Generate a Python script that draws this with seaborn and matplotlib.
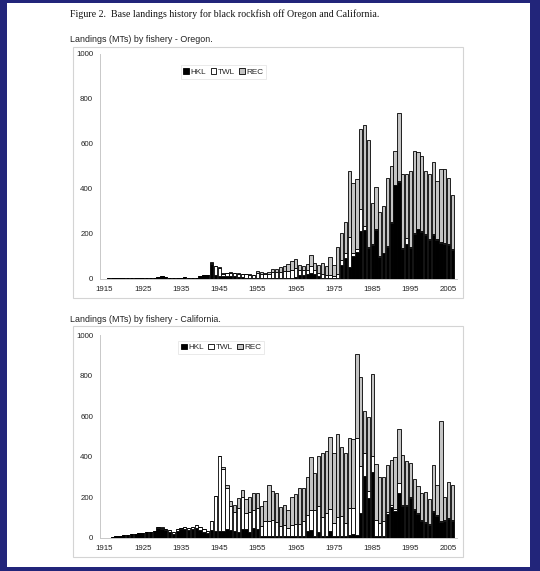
import matplotlib
matplotlib.use("Agg")
import matplotlib.pyplot as plt
from matplotlib.patches import Rectangle, Patch
import seaborn as sns
import pandas as pd

years = list(range(1916, 2007))

or_hkl = [1, 2, 2, 2, 2, 2, 3, 3, 3, 3, 3, 3, 4,
          8, 10, 7, 3, 2, 2, 3, 6, 5, 3, 4, 10, 16, 18, 66, 18, 14,
          14, 14, 12, 10, 8, 6, 5, 5, 4, 5, 4, 3, 3, 3, 3, 3, 3, 4, 5, 8,
          15, 18, 22, 25, 20, 10, 5, 5,
          5, 3, 5, 61, 91, 50, 100, 120, 212, 216, 135, 150, 216, 98, 113, 142,
          250, 416, 431, 130, 155, 135, 200, 220, 209, 194, 172, 194, 172, 160,
          155, 150, 128]
or_twl = [0, 0, 0, 0, 0, 0, 0, 0, 0, 0, 0, 0, 0,
          0, 0, 0, 0, 0, 0, 0, 0, 0, 0, 0, 0, 0, 0, 2, 38, 35,
          8, 10, 14, 14, 15, 14, 16, 12, 11, 20, 18, 18, 20, 26, 25, 27, 30, 32, 35, 40,
          25, 20, 18, 30, 20, 15, 15, 10,
          10, 8, 15, 20, 25, 137, 15, 10, 100, 20, 5, 5, 5, 3, 3, 3,
          3, 3, 3, 5, 28, 5, 4, 3, 3, 3, 3, 3, 3, 3,
          3, 3, 3]
or_rec = [0, 0, 0, 0, 0, 0, 0, 0, 0, 0, 0, 0, 0,
          0, 0, 0, 0, 0, 0, 0, 0, 0, 0, 0, 0, 0, 0, 8, 2, 1,
          2, 3, 3, 2, 2, 2, 2, 2, 2, 8, 6, 6, 8, 14, 15, 20, 25, 30, 38, 38,
          22, 20, 24, 52, 30, 35, 50, 42,
          83, 50, 122, 121, 137, 293, 309, 313, 356, 450, 476, 180, 188, 197, 207, 301,
          249, 150, 305, 333, 285, 340, 365, 339, 335, 283, 293, 323, 261, 327,
          332, 297, 241]

ca_hkl = [2, 5, 8, 11, 14, 17, 20, 22, 25, 27, 29, 31, 33,
          50, 46, 38, 30, 22, 34, 42, 45, 40, 42, 48, 40, 32, 25, 38, 35, 35,
          35, 45, 40, 35, 30, 42, 45, 32, 50, 45, 10, 8, 8, 8, 8, 8, 8, 8, 8, 8,
          10, 10, 35, 38, 8, 30, 8, 10,
          35, 8, 10, 10, 10, 15, 20, 15, 122, 305, 195, 323, 10, 10, 12, 118,
          151, 135, 220, 158, 158, 195, 140, 118, 85, 74, 64, 126, 110, 79,
          82, 92, 82]
ca_twl = [0, 0, 0, 0, 0, 0, 0, 0, 0, 0, 0, 0, 0,
          3, 3, 8, 8, 6, 8, 8, 7, 8, 10, 14, 15, 13, 10, 47, 170, 370,
          305, 200, 120, 95, 120, 160, 80, 95, 90, 105, 50, 75, 75, 80, 72, 50, 55, 40, 55, 60,
          60, 75, 80, 100, 130, 130, 95, 115,
          110, 65, 95, 100, 65, 135, 130, 476, 233, 112, 37, 80, 80, 66, 70, 10,
          10, 8, 49, 5, 5, 5, 5, 5, 5, 5, 5, 5, 5, 5,
          5, 5, 5]
ca_rec = [0, 0, 0, 0, 0, 0, 0, 0, 0, 0, 0, 0, 0,
          2, 3, 0, 0, 0, 0, 0, 0, 0, 0, 0, 0, 0, 0, 0, 0, 0,
          10, 18, 20, 35, 47, 32, 67, 76, 83, 70, 99, 101, 180, 142, 143, 96, 98, 90, 140, 147,
          175, 163, 187, 262, 180, 245, 317, 305,
          353, 347, 407, 340, 345, 344, 336, 415, 437, 209, 366, 405, 273, 226, 217, 232,
          223, 254, 266, 246, 218, 171, 144, 133, 131, 150, 122, 229, 146, 492,
          114, 178, 172]

fisheries = ["HKL", "TWL", "REC"]
tick_years = list(range(1915, 2006, 10))
y_ticks = [0, 200, 400, 600, 800, 1000]

title = "Figure 2.  Base landings history for black rockfish off Oregon and California."
sub_or = "Landings (MTs) by fishery - Oregon."
sub_ca = "Landings (MTs) by fishery - California."

pal = {"HKL": "black", "TWL": "white", "REC": "#c4c4c4"}

def long_df(hkl, twl, rec):
    return pd.DataFrame({
        "year": years * 3,
        "fishery": ["HKL"] * len(years) + ["TWL"] * len(years) + ["REC"] * len(years),
        "mt": list(hkl) + list(twl) + list(rec),
    })

sns.set_theme(style="white")
plt.rcParams["font.family"] = ["Liberation Sans", "DejaVu Sans"]

W, H = 540, 571
fig = plt.figure(figsize=(W / 100, H / 100), dpi=100)
fig.patch.set_facecolor("#22257a")
fig.add_artist(Rectangle((7 / W, 1 - 567 / H), (530 - 7) / W, (567 - 3) / H,
                         transform=fig.transFigure, facecolor="white", edgecolor="none", zorder=0))

def frame(x0, y0, x1, y1):
    fig.add_artist(Rectangle((x0 / W, 1 - y1 / H), (x1 - x0) / W, (y1 - y0) / H,
                             transform=fig.transFigure, facecolor="white",
                             edgecolor="#d4d4d4", linewidth=0.8, zorder=0.5))

fig.text(70 / W, 1 - 14 / H, title, family=["Liberation Serif", "DejaVu Serif"],
         fontsize=7.1, va="center", ha="left", color="#111111")

def panel(hkl, twl, rec, top_px, bottom_px, frame_top, frame_bottom, sub, sub_y, leg_xy):
    frame(72.7, frame_top, 462.7, frame_bottom)
    fig.text(70 / W, 1 - sub_y / H, sub, fontsize=6.4, va="center", ha="left", color="#222222")
    ax = fig.add_axes([100 / W, 1 - bottom_px / H, (457 - 100) / W, (bottom_px - top_px) / H])
    ax.set_zorder(2)
    ax.patch.set_alpha(0)
    df = long_df(hkl, twl, rec)
    sns.histplot(data=df, x="year", weights="mt", hue="fishery",
                 hue_order=["REC", "TWL", "HKL"], multiple="stack", discrete=True,
                 shrink=0.86, palette=pal, edgecolor="black", linewidth=0.6,
                 alpha=1, legend=False, ax=ax)
    ax.set_xlim(1913.8, 2007.2)
    ax.set_ylim(0, 1000)
    ax.set_xlabel("")
    ax.set_ylabel("")
    ax.set_xticks(tick_years)
    ax.set_xticklabels([str(t) for t in tick_years])
    ax.set_yticks(y_ticks)
    ax.set_yticklabels([str(t) for t in y_ticks])
    ax.tick_params(axis="both", labelsize=5.7, colors="#bbbbbb", labelcolor="#222222",
                   length=2.5, width=0.6, direction="out", pad=2.5)
    for s in ["top", "right"]:
        ax.spines[s].set_visible(False)
    for s in ["left", "bottom"]:
        ax.spines[s].set_color("#c8c8c8")
        ax.spines[s].set_linewidth(0.7)
    handles = [Patch(facecolor=pal[f], edgecolor="black", linewidth=0.6, label=f) for f in fisheries]
    leg = ax.legend(handles=handles, loc="center", bbox_to_anchor=leg_xy, ncol=3,
                    fontsize=5.9, handlelength=0.7, handleheight=0.7, handletextpad=0.2,
                    columnspacing=0.5, borderpad=0.35, frameon=True, fancybox=False)
    leg.get_frame().set_edgecolor("#e0e0e0")
    leg.get_frame().set_linewidth(0.6)
    return ax

panel(or_hkl, or_twl, or_rec, 54, 278.7, 47, 298, sub_or, 39, (0.346, 0.92))
panel(ca_hkl, ca_twl, ca_rec, 335, 538, 326, 557, sub_ca, 319, (0.34, 0.938))

fig.savefig("out.png", dpi=100, facecolor=fig.get_facecolor())
